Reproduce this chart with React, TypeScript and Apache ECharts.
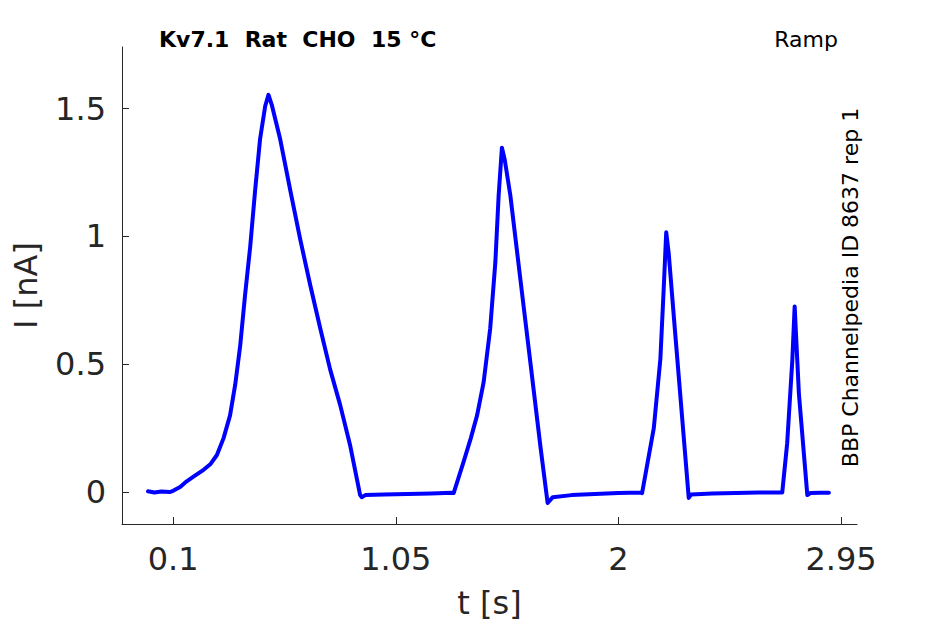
import React, { useEffect, useRef } from "react";
import * as echarts from "echarts";

// Time (s) and current (nA)
const timeS: number[] = [
  -0.007, 0.02, 0.05, 0.085,
  0.1, 0.13, 0.158, 0.19, 0.23, 0.26, 0.287, 0.315, 0.343, 0.365, 0.386, 0.407, 0.429, 0.45, 0.471, 0.493, 0.507,
  0.521, 0.557, 0.6, 0.642, 0.685, 0.728, 0.77, 0.813, 0.856, 0.898, 0.905,
  0.92, 1.0, 1.1, 1.2, 1.29,
  1.297, 1.34, 1.37, 1.397, 1.425, 1.453, 1.475, 1.489, 1.503,
  1.515, 1.539, 1.582, 1.624, 1.667, 1.698,
  1.72, 1.8, 1.9, 2.0, 2.095,
  2.101, 2.151, 2.179, 2.194, 2.204,
  2.215, 2.237, 2.272, 2.3,
  2.31, 2.4, 2.5, 2.6, 2.699,
  2.72, 2.742, 2.752,
  2.77, 2.806,
  2.82, 2.86, 2.898,
];
const currentNA: number[] = [
  0.003, -0.002, 0.002, 0.0,
  0.005, 0.02, 0.042, 0.062, 0.087, 0.11, 0.145, 0.21, 0.3, 0.42, 0.57, 0.77, 0.96, 1.18, 1.38, 1.51, 1.554,
  1.515, 1.38, 1.18, 0.99, 0.81, 0.64, 0.48, 0.34, 0.18, -0.012, -0.02,
  -0.012, -0.01, -0.008, -0.006, -0.003,
  -0.004, 0.12, 0.21, 0.3, 0.43, 0.64, 0.9, 1.16, 1.347,
  1.3, 1.16, 0.83, 0.51, 0.18, -0.043,
  -0.02, -0.012, -0.008, -0.004, -0.002,
  -0.004, 0.25, 0.52, 0.81, 1.016,
  0.93, 0.68, 0.29, -0.023,
  -0.01, -0.006, -0.004, -0.002, -0.002,
  0.19, 0.515, 0.726,
  0.386, -0.012,
  -0.004, -0.003, -0.003,
];

const xTicks: number[] = [0.1, 1.05, 2, 2.95];
const yTicks: number[] = [0, 0.5, 1, 1.5];

const titleText = "Kv7.1  Rat  CHO  15 °C";
const protocolText = "Ramp";
const sourceText = "BBP Channelpedia ID 8637 rep 1";
const xName = "t [s]";
const yName = "I [nA]";

const FONT = "DejaVu Sans";
const AXIS_COLOR = "#262626";

export default function App() {
  const ref = useRef<HTMLDivElement>(null);

  useEffect(() => {
    if (!ref.current) return;
    const chart = echarts.init(ref.current, undefined, { renderer: "svg" });
    const data = timeS.map((t, i) => [t, currentNA[i]]);

    chart.setOption({
      animation: false,
      backgroundColor: "#ffffff",
      grid: { left: 122, right: 88, top: 47, bottom: 98, containLabel: false },
      xAxis: {
        type: "value",
        min: -0.118,
        max: 3.018,
        name: xName,
        nameLocation: "middle",
        nameGap: 63,
        nameTextStyle: { fontFamily: FONT, fontSize: 32, color: AXIS_COLOR, verticalAlign: "top" },
        axisLine: { onZero: false, lineStyle: { color: AXIS_COLOR, width: 1 } },
        axisTick: { inside: true, length: 7, customValues: xTicks, lineStyle: { color: AXIS_COLOR } },
        axisLabel: {
          customValues: xTicks,
          margin: 19,
          fontFamily: FONT,
          fontSize: 32,
          color: AXIS_COLOR,
          formatter: (v: number) => String(v),
        },
        splitLine: { show: false },
      },
      yAxis: {
        type: "value",
        min: -0.125,
        max: 1.741,
        name: yName,
        nameLocation: "middle",
        nameGap: 80,
        nameTextStyle: { fontFamily: FONT, fontSize: 32, color: AXIS_COLOR },
        axisLine: { show: true, onZero: false, lineStyle: { color: AXIS_COLOR, width: 1 } },
        axisTick: { show: true, inside: true, length: 7, customValues: yTicks, lineStyle: { color: AXIS_COLOR } },
        axisLabel: {
          customValues: yTicks,
          margin: 16,
          fontFamily: FONT,
          fontSize: 32,
          color: AXIS_COLOR,
          formatter: (v: number) => String(v),
        },
        splitLine: { show: false },
      },
      series: [
        {
          type: "line",
          data,
          showSymbol: false,
          symbol: "none",
          lineStyle: { color: "#0000ff", width: 4, join: "round", cap: "round" },
          z: 3,
        },
      ],
      graphic: [
        {
          type: "text",
          x: 159,
          y: 39,
          style: {
            text: titleText,
            fontFamily: FONT,
            fontSize: 22,
            fontWeight: "bold",
            fill: "#000000",
            align: "left",
            verticalAlign: "middle",
          },
        },
        {
          type: "text",
          x: 838,
          y: 39,
          style: {
            text: protocolText,
            fontFamily: FONT,
            fontSize: 22,
            fill: "#000000",
            align: "right",
            verticalAlign: "middle",
          },
        },
        {
          type: "text",
          x: 850,
          y: 287.5,
          rotation: Math.PI / 2,
          style: {
            text: sourceText,
            fontFamily: FONT,
            fontSize: 22,
            fill: "#000000",
            align: "center",
            verticalAlign: "middle",
          },
        },
      ],
    });

    return () => chart.dispose();
  }, []);

  return (
    <div
      ref={ref}
      style={{ position: "fixed", left: 0, top: 0, width: 945, height: 624, background: "#fff" }}
    />
  );
}
